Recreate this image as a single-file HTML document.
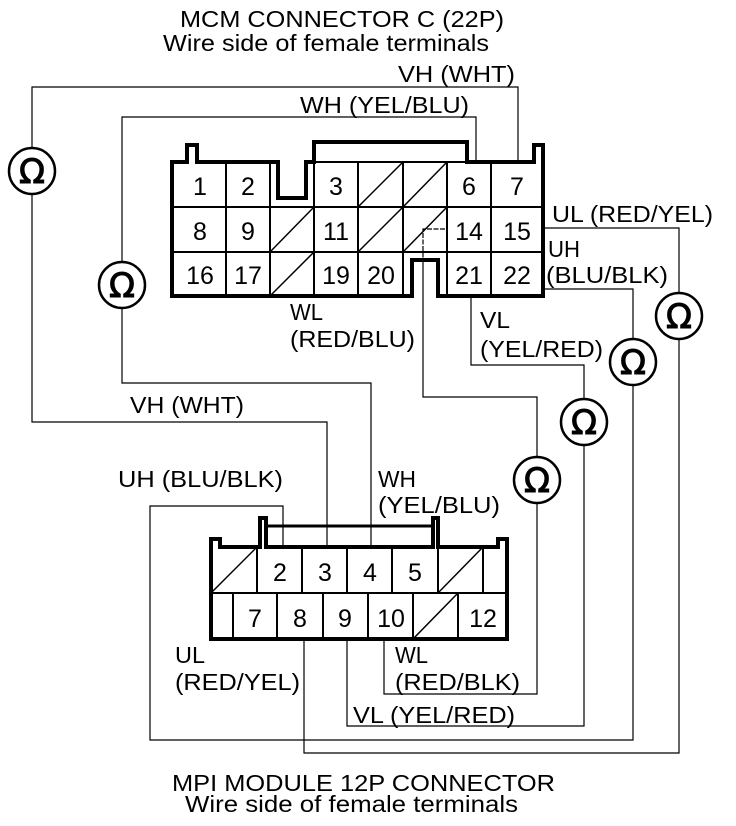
<!DOCTYPE html>
<html><head><meta charset="utf-8"><style>
html,body{margin:0;padding:0;background:#fff}
svg{display:block}
text{font-family:"Liberation Sans",sans-serif;fill:#000}
.l{font-size:23px}
.n{font-size:25px;text-anchor:middle}
.o{font-size:34px;text-anchor:middle;font-family:"DejaVu Sans",sans-serif}
</style></head><body>
<svg width="736" height="826" viewBox="0 0 736 826" xmlns="http://www.w3.org/2000/svg">
<g fill="none" stroke="#000" stroke-width="1.2">
<polyline points="518,162 518,87 32,87 32,148"/>
<polyline points="32,194 32,422 327,422 327,547"/>
<polyline points="476,162 476,117 122,117 122,262"/>
<polyline points="122,308 122,383 371,383 371,547"/>
<polyline points="543,228 679,228 679,293"/>
<polyline points="679,339 679,753 304,753 304,639"/>
<polyline points="543,289 633,289 633,339"/>
<polyline points="633,385 633,740 150,740 150,506 283,506 283,547"/>
<polyline points="471,296 471,365 584,365 584,399"/>
<polyline points="584,445 584,726 347,726 347,639"/>
<polyline points="445,229 423,229 423,262" stroke-dasharray="5,1.5"/>
<polyline points="423,262 423,397 537,397 537,457"/>
<polyline points="537,503 537,694 384,694 384,639"/>
</g>
<g fill="#fff" stroke="#000" stroke-width="2.5">
<circle cx="32" cy="171" r="23"/><circle cx="122" cy="285" r="23"/>
<circle cx="679" cy="316" r="23"/><circle cx="633" cy="362" r="23"/>
<circle cx="584" cy="422" r="23"/><circle cx="537" cy="480" r="23"/>
</g>
<g>
<text class="o" x="32" y="183" stroke="#000" stroke-width="1">Ω</text><text class="o" x="122" y="297" stroke="#000" stroke-width="1">Ω</text>
<text class="o" x="679" y="328" stroke="#000" stroke-width="1">Ω</text><text class="o" x="633" y="374" stroke="#000" stroke-width="1">Ω</text>
<text class="o" x="584" y="434" stroke="#000" stroke-width="1">Ω</text><text class="o" x="537" y="492" stroke="#000" stroke-width="1">Ω</text>
</g>
<g fill="none" stroke="#000">
<path stroke-width="4" d="M172,296 L172,162 L187,162 L187,145 L197,145 L197,162 L278,162 L278,198 L306,198 L306,162 L314,162 L314,142 L467,142 L467,162 L534,162 L534,145 L543,145 L543,296 L438,296 L438,260 L412,260 L412,296 Z"/>
<g stroke-width="2">
<line x1="172" y1="207" x2="543" y2="207"/><line x1="172" y1="252" x2="543" y2="252"/>
<line x1="226" y1="162" x2="226" y2="296"/><line x1="270" y1="162" x2="270" y2="296"/>
<line x1="314" y1="162" x2="314" y2="296"/><line x1="358" y1="162" x2="358" y2="296"/>
<line x1="403" y1="162" x2="403" y2="296"/><line x1="447" y1="162" x2="447" y2="296"/>
<line x1="491" y1="162" x2="491" y2="296"/>
<line x1="314" y1="162" x2="467" y2="162"/>
</g>
<g stroke-width="1.5">
<line x1="358" y1="207" x2="403" y2="162"/><line x1="403" y1="207" x2="447" y2="162"/>
<line x1="270" y1="252" x2="314" y2="207"/><line x1="358" y1="252" x2="403" y2="207"/>
<line x1="403" y1="252" x2="447" y2="207"/><line x1="270" y1="296" x2="314" y2="252"/>
</g>
</g>
<g>
<text class="n" x="200" y="195">1</text><text class="n" x="248" y="195">2</text>
<text class="n" x="336" y="195">3</text><text class="n" x="469" y="195">6</text>
<text class="n" x="517" y="195">7</text>
<text class="n" x="200" y="240">8</text><text class="n" x="248" y="240">9</text>
<text class="n" x="336" y="240">11</text><text class="n" x="469" y="240">14</text>
<text class="n" x="517" y="240">15</text>
<text class="n" x="200" y="284">16</text><text class="n" x="248" y="284">17</text>
<text class="n" x="336" y="284">19</text><text class="n" x="381" y="284">20</text>
<text class="n" x="469" y="284">21</text><text class="n" x="517" y="284">22</text>
</g>
<g fill="none" stroke="#000">
<path stroke-width="4" d="M211,639 L211,539 L220,539 L220,547 L260,547 L260,518 L266,518 L266,547 L433,547 L433,518 L438,518 L438,547 L498,547 L498,539 L507,539 L507,639 Z"/>
<line stroke-width="3" x1="266" y1="526" x2="433" y2="526"/>
<g stroke-width="2">
<line x1="211" y1="593" x2="507" y2="593"/>
<line x1="257" y1="547" x2="257" y2="593"/><line x1="302" y1="547" x2="302" y2="593"/>
<line x1="347" y1="547" x2="347" y2="593"/><line x1="392" y1="547" x2="392" y2="593"/>
<line x1="438" y1="547" x2="438" y2="593"/><line x1="483" y1="547" x2="483" y2="593"/>
<line x1="233" y1="593" x2="233" y2="639"/><line x1="277" y1="593" x2="277" y2="639"/>
<line x1="323" y1="593" x2="323" y2="639"/><line x1="368" y1="593" x2="368" y2="639"/>
<line x1="413" y1="593" x2="413" y2="639"/><line x1="458" y1="593" x2="458" y2="639"/>
</g>
<g stroke-width="1.5">
<line x1="211" y1="593" x2="257" y2="547"/><line x1="438" y1="593" x2="483" y2="547"/>
<line x1="413" y1="639" x2="458" y2="593"/>
</g>
</g>
<g>
<text class="n" x="280" y="581">2</text><text class="n" x="325" y="581">3</text>
<text class="n" x="370" y="581">4</text><text class="n" x="415" y="581">5</text>
<text class="n" x="255" y="627">7</text><text class="n" x="300" y="627">8</text>
<text class="n" x="345" y="627">9</text><text class="n" x="391" y="627">10</text>
<text class="n" x="483" y="627">12</text>
</g>
<text class="l" x="180" y="27" textLength="324" lengthAdjust="spacingAndGlyphs">MCM CONNECTOR C (22P)</text>
<text class="l" x="163" y="51" textLength="326" lengthAdjust="spacingAndGlyphs">Wire side of female terminals</text>
<text class="l" x="398" y="82" textLength="117" lengthAdjust="spacingAndGlyphs">VH (WHT)</text>
<text class="l" x="300" y="113" textLength="169" lengthAdjust="spacingAndGlyphs">WH (YEL/BLU)</text>
<text class="l" x="552" y="222" textLength="161" lengthAdjust="spacingAndGlyphs">UL (RED/YEL)</text>
<text class="l" x="548" y="257" textLength="32" lengthAdjust="spacingAndGlyphs">UH</text>
<text class="l" x="546" y="283" textLength="122" lengthAdjust="spacingAndGlyphs">(BLU/BLK)</text>
<text class="l" x="290" y="320" textLength="33" lengthAdjust="spacingAndGlyphs">WL</text>
<text class="l" x="290" y="347" textLength="125" lengthAdjust="spacingAndGlyphs">(RED/BLU)</text>
<text class="l" x="480" y="328" textLength="30" lengthAdjust="spacingAndGlyphs">VL</text>
<text class="l" x="480" y="357" textLength="123" lengthAdjust="spacingAndGlyphs">(YEL/RED)</text>
<text class="l" x="130" y="413" textLength="114" lengthAdjust="spacingAndGlyphs">VH (WHT)</text>
<text class="l" x="118" y="487" textLength="165" lengthAdjust="spacingAndGlyphs">UH (BLU/BLK)</text>
<text class="l" x="378" y="487" textLength="38" lengthAdjust="spacingAndGlyphs">WH</text>
<text class="l" x="378" y="513" textLength="122" lengthAdjust="spacingAndGlyphs">(YEL/BLU)</text>
<text class="l" x="175" y="663" textLength="30" lengthAdjust="spacingAndGlyphs">UL</text>
<text class="l" x="175" y="690" textLength="125" lengthAdjust="spacingAndGlyphs">(RED/YEL)</text>
<text class="l" x="395" y="663" textLength="33" lengthAdjust="spacingAndGlyphs">WL</text>
<text class="l" x="395" y="690" textLength="125" lengthAdjust="spacingAndGlyphs">(RED/BLK)</text>
<text class="l" x="353" y="723" textLength="162" lengthAdjust="spacingAndGlyphs">VL (YEL/RED)</text>
<text class="l" x="172" y="791" textLength="383" lengthAdjust="spacingAndGlyphs">MPI MODULE 12P CONNECTOR</text>
<text class="l" x="185" y="812" textLength="333" lengthAdjust="spacingAndGlyphs">Wire side of female terminals</text>
</svg>
</body></html>
